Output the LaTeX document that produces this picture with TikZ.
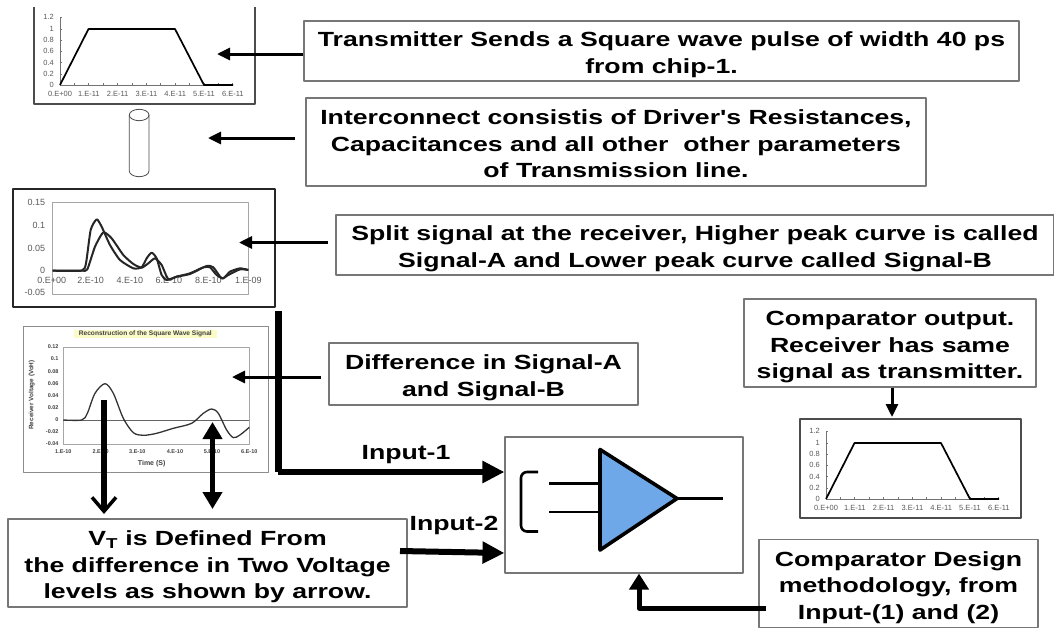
\documentclass[tikz,border=0pt]{standalone}
\usepackage{fontspec}
\setmainfont{Liberation Sans}
\newfontfamily\boxfont[FakeStretch=1.3]{Liberation Sans}
\usetikzlibrary{arrows.meta}
\definecolor{comparatorfill}{HTML}{6FA8E8}
\definecolor{framegray}{HTML}{777777}
\definecolor{titleyellow}{HTML}{FBFBC8}
\newcommand{\boxtext}[1]{\raisebox{-9pt}[0pt][0pt]{\begin{tabular}{@{}c@{}}#1\end{tabular}}}

\begin{document}
\begin{tikzpicture}[
  x=1pt,
  y=-1pt,
  line join=round,
  textbox/.style={draw=framegray,line width=1.1pt,fill=white,inner sep=0pt,font=\boxfont\fontsize{20.5}{26.5}\bfseries\selectfont},
  thinarrow/.style={draw=black,line width=3pt,-{Triangle[length=13pt,width=12pt]}},
  fatarrow/.style={draw=black,line width=6pt,-{Triangle[length=22pt,width=21pt]}},
  midarrow/.style={draw=black,line width=5pt,-{Triangle[length=16pt,width=19pt]}},
  chartframe/.style={draw=#1,inner sep=0pt},
  ticklabel/.style={font=\fontsize{7.5}{8}\selectfont,text=black!65,inner sep=0pt},
  tinylabel/.style={font=\fontsize{5.5}{6}\bfseries\selectfont,text=black!75,inner sep=0pt},
  plotarea/.style={draw=black!35,line width=0.8pt},
  wave/.style={draw=black!85,line width=2pt,line join=round},
  inputlabel/.style={font=\boxfont\fontsize{20.5}{22}\bfseries\selectfont,inner sep=0pt}
]
  \useasboundingbox (0,0) rectangle (1054,627);

  % Transmitter and comparator output pulses share one shape.
  \draw[black!70,line width=1.2pt] (34,7) -- (34,104) -- (255,104) -- (255,7);
  \node[chartframe=black!70,line width=1.2pt,minimum width=221pt,minimum height=99pt] (outchart) at (910.5,468.5) {};
  \foreach \ox/\oy in {60/85,826/499} {
    \begin{scope}[shift={(\ox,\oy)}]
      \draw[black!55,line width=0.7pt] (0,-68) -- (0,0) -- (173,0);
      \foreach \lab/\yy in {1.2/-68,1/-56,0.8/-45,0.6/-34,0.4/-22.5,0.2/-11,0/0} {
        \node[ticklabel,anchor=east] at (-6,\yy) {\lab};
        \draw[black!55,line width=0.7pt] (0,\yy) -- (2,\yy);
      }
      \foreach \lab [count=\i from 0] in {0.E+00,1.E-11,2.E-11,3.E-11,4.E-11,5.E-11,6.E-11}
        \node[ticklabel] at (\i*28.8,9) {\lab};
      \foreach \i in {1,...,12}
        \draw[black!55,line width=0.7pt] (\i*14.4,0) -- (\i*14.4,-2);
      \draw[black,line width=1.7pt] (0,0) -- (28.5,-56) -- (115,-56) -- (144,0) -- (173,0);
    \end{scope}
  }

  % Interconnect cylinder.
  \draw[black!70,line width=0.8pt] (129.3,115) -- (129.3,171) arc[start angle=180,end angle=0,x radius=9.85,y radius=5.7] -- (149,115);
  \draw[black!70,line width=0.8pt] (139.15,115) ellipse[x radius=9.85,y radius=5.7];

  % Split signal chart, written in zoomed units.
  \node[chartframe=black!85,line width=2pt,minimum width=262pt,minimum height=118pt] (splitchart) at (144,248) {};
  \begin{scope}[shift={(0,180)},x=0.3333pt,y=-0.3333pt]
    \draw[plotarea] (158,68) rectangle (745,343);
    \foreach \lab/\yy in {0.15/68,0.1/135,0.05/204,0/270,-0.05/338}
      \node[ticklabel,anchor=east,font=\fontsize{9}{10}\selectfont] at (136,\yy) {\lab};
    \foreach \lab/\xx in {0.E+00/155,2.E-10/272,4.E-10/390,6.E-10/507,8.E-10/625,1.E-09/745}
      \node[ticklabel,font=\fontsize{9}{10}\selectfont] at (\xx,301) {\lab};
    \draw[wave] plot[smooth,tension=0.35] coordinates {(158,272) (245,272) (258,250) (272,150) (290,118) (305,140) (330,195) (360,240) (400,265) (425,262) (440,235) (455,218) (470,235) (485,285) (500,300) (530,290) (570,280) (610,262) (630,262) (650,285) (670,295) (690,275) (720,265) (745,270)};
    \draw[wave] plot[smooth,tension=0.35] coordinates {(158,272) (245,272) (262,268) (285,200) (310,157) (335,175) (370,225) (400,252) (425,263) (445,250) (465,235) (485,255) (505,298) (530,290) (570,282) (620,258) (640,262) (665,295) (685,285) (720,268) (745,270)};
  \end{scope}

  % Difference chart, written in zoomed units.
  \node[chartframe=black!45,line width=1pt,minimum width=245pt,minimum height=146pt] (diffchart) at (145.5,399) {};
  \begin{scope}[shift={(0,180)},x=0.3333pt,y=-0.3333pt]
    \node[fill=titleyellow,minimum width=143pt,minimum height=8pt,inner sep=0pt,tinylabel,font=\fontsize{6.6}{7}\bfseries\selectfont] (difftitle) at (436,462) {Reconstruction of the Square Wave Signal};
    \draw[plotarea] (190,503) rectangle (748,792);
    \draw[black!60,line width=0.8pt] (190,720) -- (748,720);
    \foreach \lab/\yy in {0.12/500,0.1/537,0.08/574,0.06/611,0.04/647,0.02/683,0/720,-0.02/756,-0.04/792}
      \node[tinylabel,anchor=east] at (176,\yy) {\lab};
    \foreach \lab/\xx in {1.E-10/190,2.E-10/302,3.E-10/412,4.E-10/525,5.E-10/636,6.E-10/748}
      \node[tinylabel] at (\xx,815) {\lab};
    \node[tinylabel,font=\fontsize{7}{8}\bfseries\selectfont] (timelabel) at (455,850) {Time (S)};
    \node[tinylabel,rotate=90,font=\fontsize{6.4}{7}\bfseries\selectfont] (voltlabel) at (95,645) {Receiver Voltage (VoH)};
    \draw[draw=black!80,line width=1.3pt] plot[smooth,tension=0.5] coordinates {(190,720) (245,720) (262,700) (285,640) (315,611) (340,640) (370,715) (400,758) (430,766) (470,760) (520,745) (575,730) (610,700) (635,687) (655,700) (680,750) (700,773) (720,765) (748,742)};
  \end{scope}

  % Text boxes.
  \node[textbox,minimum width=715pt,minimum height=60pt] (txbox) at (661.5,51) {\boxtext{Transmitter Sends a Square wave pulse of width 40 ps\\from chip-1.}};
  \node[textbox,minimum width=620pt,minimum height=88pt] (linebox) at (616,142) {\boxtext{Interconnect consistis of Driver's Resistances,\\Capacitances and all other\ \ other parameters\\of Transmission line.}};
  \node[textbox,minimum width=718pt,minimum height=60pt] (splitbox) at (695,245) {\boxtext{Split signal at the receiver, Higher peak curve is called\\Signal-A and Lower peak curve called Signal-B}};
  \node[textbox,minimum width=309pt,minimum height=62pt] (diffbox) at (483.5,374) {\boxtext{Difference in Signal-A\\and Signal-B}};
  \node[textbox,minimum width=292pt,minimum height=88pt] (outbox) at (890,343) {\boxtext{Comparator output.\\Receiver has same\\signal as transmitter.}};
  \node[textbox,minimum width=399pt,minimum height=88pt] (vtbox) at (207.5,563) {\boxtext{V\textsubscript{T} is Defined From\\the difference in Two Voltage\\levels as shown by arrow.}};
  \node[textbox,minimum width=279pt,minimum height=88pt] (designbox) at (898.5,583.5) {\boxtext{Comparator Design\\methodology, from\\Input-(1) and (2)}};
  \node[textbox,minimum width=238pt,minimum height=136pt] (compbox) at (624,505) {};

  % Comparator symbol.
  \coordinate (triA) at (600,449.5);
  \coordinate (triB) at (600,550);
  \coordinate (triC) at (677,498.5);
  \draw[black,line width=2.6pt] (549,483.5) -- (600,483.5);
  \draw[black,line width=2.6pt] (549,512) -- (600,512);
  \draw[black,line width=2.6pt] (triC) -- (723,498.5);
  \draw[black,line width=3.6pt,fill=comparatorfill] (triA) -- (triB) -- (triC) -- cycle;
  \draw[black,line width=2.6pt,rounded corners=6pt] (538,472) -- (521,472) -- (521,531.5) -- (538,531.5);

  % Arrows from the text boxes to the charts.
  \coordinate (txtip) at (217,54);
  \coordinate (linetip) at (208,138);
  \coordinate (linetail) at (295,138);
  \coordinate (splittip) at (239,242.5);
  \coordinate (splittail) at (328,242.5);
  \coordinate (difftip) at (232,377);
  \coordinate (difftail) at (321,377);
  \draw[thinarrow] (txbox.west |- txtip) -- (txtip);
  \draw[thinarrow] (linetail) -- (linetip);
  \draw[thinarrow] (splittail) -- (splittip);
  \draw[thinarrow] (difftail) -- (difftip);
  \draw[thinarrow] (outbox.south -| 892,0) -- (892,417);

  % Voltage level arrows.
  \coordinate (peakA) at (104,400);
  \coordinate (peakAend) at (104,514);
  \coordinate (peakB) at (212.5,422);
  \coordinate (peakBend) at (212.5,509);
  \draw[line width=6pt,-{Straight Barb[length=14pt,width=24pt,line width=3.5pt]}] (peakA) -- (peakAend);
  \draw[line width=5.5pt,{Triangle[length=17pt,width=19pt]}-{Triangle[length=17pt,width=19pt]}] (peakB) -- (peakBend);

  % Inputs of the comparator.
  \coordinate (busstart) at (278,311);
  \coordinate (buscorner) at (278,472);
  \coordinate (input2tail) at (400,551);
  \draw[line width=7pt] (busstart) -- (buscorner);
  \draw[fatarrow] (buscorner) -- (compbox.west |- buscorner);
  \draw[fatarrow] (input2tail) -- (compbox.west |- 0,553);
  \node[inputlabel] (input1) at (406,455) {Input-1};
  \node[inputlabel] (input2) at (454,525) {Input-2};

  % Design box into the comparator.
  \coordinate (designtail) at (766,608);
  \draw[midarrow] (designtail) -| (compbox.south -| 639,0);
\end{tikzpicture}
\end{document}
